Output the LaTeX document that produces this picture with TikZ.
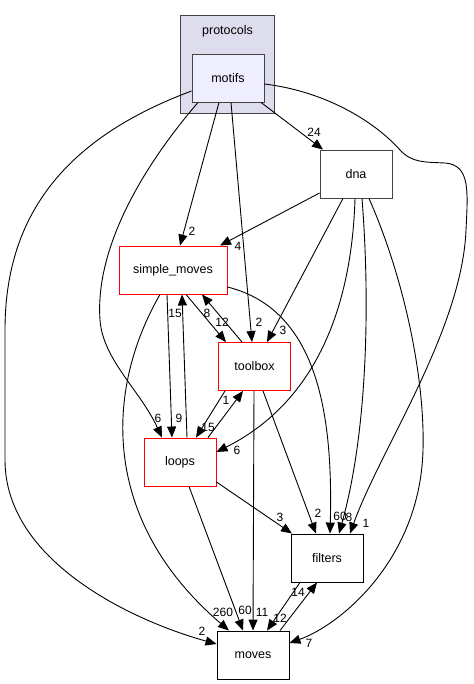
\documentclass[tikz,border=0pt]{standalone}
\usepackage{fontspec}
\setmainfont{Liberation Sans}
\usepackage{xcolor}
\usepackage{tikz}
\usetikzlibrary{arrows.meta}

\definecolor{clusterfill}{HTML}{DDDDEE}
\definecolor{motifsfill}{HTML}{EEEEFF}
\definecolor{frame}{HTML}{444444}

\begin{document}
\begin{tikzpicture}[
    x=1pt, y=-1pt,
    font=\fontsize{12.5}{15}\selectfont,
    dirbox/.style={draw, line width=0.9pt, fill=white, minimum width=72pt, minimum height=48pt, inner sep=0pt},
    cluster/.style={draw=frame, line width=0.9pt, fill=clusterfill, minimum width=94pt, minimum height=98pt, inner sep=0pt},
    dep/.style={line width=0.9pt, -{Triangle[length=11pt,width=9pt]}},
    lbl/.style={font=\fontsize{12}{14}\selectfont, inner sep=0pt}
]
\useasboundingbox (0,0) rectangle (473,684);

\node[cluster] (protocols) at (227.5,64) {};
\node[anchor=north] (protocolslbl) at ([yshift=-7pt]protocols.north) {protocols};
\node[dirbox, draw=frame, fill=motifsfill] (motifs) at (228,78) {motifs};
\node[dirbox, draw=frame] (dna) at (356,174) {dna};
\node[dirbox, draw=red, minimum width=108pt] (simplemoves) at (173,270) {simple\_moves};
\node[dirbox, draw=red] (toolbox) at (254.5,366.5) {toolbox};
\node[dirbox, draw=red] (loops) at (180,462) {loops};
\node[dirbox] (filters) at (327,558) {filters};
\node[dirbox] (moves) at (253,655) {moves};

% motifs
\draw[dep] (motifs.west |- 0,91) .. controls (60,140) and (5,220) .. (5,330) -- (5,460)
    .. controls (5,560) and (130,620) .. (moves.west |- 0,644) node[lbl, at={(202,631)}] {2};
\draw[dep] (motifs.south -| 198,0) .. controls (140,170) and (95,250) .. (100,320)
    .. controls (103,360) and (140,390) .. (loops.north -| 162,0) node[lbl, at={(158,418)}] {6};
\draw[dep] (motifs.south -| 219,0) -- (simplemoves.north -| 180,0) node[lbl, at={(192,231)}] {2};
\draw[dep] (motifs.south -| 231,0) -- (toolbox.north -| 252,0) node[lbl, at={(259,322)}] {2};
\draw[dep] (motifs.south -| 261,0) -- (dna.north -| 323,0) node[lbl, at={(314,132)}] {24};
\draw[dep] (motifs.east |- 0,84) .. controls (330,92) and (378,125) .. (400,150)
    .. controls (412,163) and (425,162) .. (445,163) .. controls (470,165) and (468,190) .. (466,230)
    .. controls (462,330) and (380,450) .. (filters.north -| 350,0) node[lbl, at={(366,523)}] {1};

% dna
\draw[dep] (dna.west |- 0,193) -- (simplemoves.north -| 220,0) node[lbl, at={(238,246)}] {4};
\draw[dep] (dna.south -| 343,0) -- (toolbox.north -| 267,0) node[lbl, at={(283,330)}] {3};
\draw[dep] (dna.south -| 355,0) .. controls (352,300) and (320,400) .. (loops.east |- 0,452) node[lbl, at={(237,450)}] {6};
\draw[dep] (dna.south -| 362,0) .. controls (370,300) and (368,430) .. (filters.north -| 339,0) node[lbl, at={(349,517)}] {8};
\draw[dep] (dna.south -| 369,0) .. controls (405,280) and (425,380) .. (423,450)
    .. controls (420,560) and (340,625) .. (moves.east |- 0,643) node[lbl, at={(309,643)}] {7};

% simple_moves
\draw[dep] (simplemoves.south -| 186,0) -- (toolbox.north -| 226,0) node[lbl, at={(222,322)}] {12};
\draw[dep] (simplemoves.south -| 167,0) -- (loops.north -| 172,0) node[lbl, at={(179,418)}] {9};
\draw[dep] (simplemoves.south -| 160,0) .. controls (105,390) and (100,520) .. (moves.north -| 229,0) node[lbl, at={(223,612)}] {260};
\draw[dep] (simplemoves.east |- 0,287) .. controls (320,310) and (333,420) .. (filters.north -| 330,0) node[lbl, at={(340,516)}] {60};

% toolbox
\draw[dep] (toolbox.north -| 242,0) -- (simplemoves.south -| 202,0) node[lbl, at={(207,313)}] {8};
\draw[dep] (toolbox.south -| 225,0) -- (loops.north -| 196,0) node[lbl, at={(208,427)}] {15};
\draw[dep] (toolbox.south -| 263,0) -- (filters.north -| 316,0) node[lbl, at={(318,513)}] {2};
\draw[dep] (toolbox.south -| 254,0) -- (moves.north -| 253,0) node[lbl, at={(262,612)}] {11};

% loops
\draw[dep] (loops.north -| 187,0) -- (simplemoves.south -| 182,0) node[lbl, at={(175,313)}] {15};
\draw[dep] (loops.north -| 208,0) -- (toolbox.south -| 243,0) node[lbl, at={(226,400)}] {1};
\draw[dep] (loops.east |- 0,482) -- (filters.north -| 292,0) node[lbl, at={(280,517)}] {3};
\draw[dep] (loops.south -| 189,0) -- (moves.north -| 243,0) node[lbl, at={(245,610)}] {60};

% filters / moves
\draw[dep] (filters.south -| 300,0) -- (moves.north -| 267,0) node[lbl, at={(280,618)}] {12};
\draw[dep] (moves.north -| 280,0) -- (filters.south -| 317,0) node[lbl, at={(298,592)}] {14};
\end{tikzpicture}
\end{document}
